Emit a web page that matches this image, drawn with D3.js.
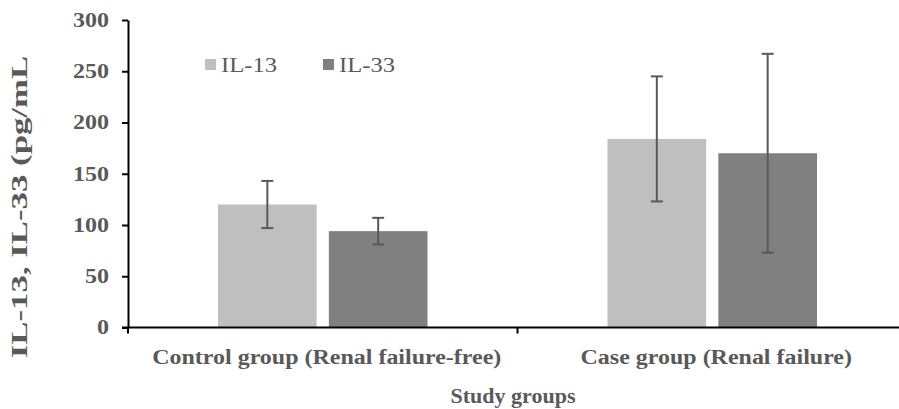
<!DOCTYPE html>
<html>
<head>
<meta charset="utf-8">
<script src="https://cdn.jsdelivr.net/npm/d3@7"></script>
<style>
    body { margin: 0; background: #fff; }
    text { font-family: "Liberation Serif", "Times New Roman", serif; }
</style>
</head>
<body>
<div id="chart"></div>
<script>
// Chart data
var groups = ["Control group (Renal failure-free)", "Case group (Renal failure)"];
var seriesNames = ["IL-13", "IL-33"];
var il13Means = [120, 184];
var il13Errors = [23, 61];
var il33Means = [94, 170];
var il33Errors = [13, 97];
var yTicks = [0, 50, 100, 150, 200, 250, 300];

var colors = { "IL-13": "#bfbfbf", "IL-33": "#808080" };

var svgWidth = 899;
var svgHeight = 409;

var margin = { top: 20, left: 128 };
var plotBottom = 327.5;

// text in the source figure is a little stretched sideways
var stretch = 1.2;

var svg = d3.select("#chart")
    .append("svg")
    .attr("width", svgWidth)
    .attr("height", svgHeight);

// Build rows from the arrays
var rows = groups.map(function (g, i) {
    return {
        group: g,
        values: [
            { key: "IL-13", mean: il13Means[i], err: il13Errors[i] },
            { key: "IL-33", mean: il33Means[i], err: il33Errors[i] }
        ]
    };
});

// Scales
var x0 = d3.scaleBand()
    .domain(groups)
    .range([margin.left, 907])
    .paddingInner(0)
    .paddingOuter(0);

var x1 = d3.scaleBand()
    .domain(seriesNames)
    .range([90, x0.bandwidth() - 90])
    .paddingInner(0.11);

var y = d3.scaleLinear()
    .domain([0, 300])
    .range([plotBottom, margin.top]);

// Bars
var groupG = svg.selectAll(".group")
    .data(rows)
    .enter()
    .append("g")
    .attr("transform", d => `translate(${x0(d.group)},0)`);

groupG.selectAll("rect")
    .data(d => d.values)
    .enter()
    .append("rect")
    .attr("x", d => x1(d.key))
    .attr("y", d => y(d.mean))
    .attr("width", x1.bandwidth())
    .attr("height", d => y(0) - y(d.mean))
    .attr("fill", d => colors[d.key]);

// Error bars
var errG = groupG.selectAll(".err")
    .data(d => d.values)
    .enter()
    .append("g")
    .attr("stroke", "#595959")
    .attr("stroke-width", 2);

errG.append("line")
    .attr("x1", d => x1(d.key) + x1.bandwidth() / 2)
    .attr("x2", d => x1(d.key) + x1.bandwidth() / 2)
    .attr("y1", d => y(d.mean + d.err))
    .attr("y2", d => y(d.mean - d.err));

errG.selectAll(".cap")
    .data(d => [d.mean + d.err, d.mean - d.err].map(v => ({ key: d.key, v: v })))
    .enter()
    .append("line")
    .attr("x1", d => x1(d.key) + x1.bandwidth() / 2 - 6)
    .attr("x2", d => x1(d.key) + x1.bandwidth() / 2 + 6)
    .attr("y1", d => y(d.v))
    .attr("y2", d => y(d.v));

// Y axis
var yAxis = svg.append("g")
    .attr("transform", `translate(${margin.left},0)`)
    .call(d3.axisLeft(y).tickValues(yTicks).tickSize(6).tickSizeOuter(0));

yAxis.select(".domain").attr("stroke", "#000").attr("stroke-width", 2);
yAxis.selectAll(".tick line").attr("stroke", "#000").attr("stroke-width", 2);
yAxis.selectAll(".tick text")
    .attr("x", 0)
    .attr("transform", `translate(-19,0) scale(${stretch},1)`)
    .attr("fill", "#595959")
    .attr("font-size", "20px")
    .attr("font-weight", "bold");

// X axis
var xAxis = svg.append("g")
    .attr("transform", `translate(0,${plotBottom})`);

xAxis.append("line")
    .attr("x1", margin.left - 6)
    .attr("x2", svgWidth)
    .attr("stroke", "#000")
    .attr("stroke-width", 2);

xAxis.selectAll(".xtick")
    .data(groups.concat(["end"]))
    .enter()
    .append("line")
    .attr("x1", (d, i) => i === 0 ? margin.left : x0(groups[i - 1]) + x0.bandwidth())
    .attr("x2", (d, i) => i === 0 ? margin.left : x0(groups[i - 1]) + x0.bandwidth())
    .attr("y1", 0)
    .attr("y2", 6)
    .attr("stroke", "#000")
    .attr("stroke-width", 2);

xAxis.selectAll(".xlabel")
    .data(groups)
    .enter()
    .append("text")
    .attr("transform", d => `translate(${x0(d) + x0.bandwidth() / 2 + 4},36) scale(1.09,1)`)
    .attr("text-anchor", "middle")
    .attr("fill", "#595959")
    .attr("font-size", "22px")
    .attr("font-weight", "bold")
    .text(d => d);

// Axis titles
svg.append("text")
    .attr("transform", "translate(513,403)")
    .attr("text-anchor", "middle")
    .attr("fill", "#595959")
    .attr("font-size", "22px")
    .attr("font-weight", "bold")
    .text("Study groups");

svg.append("text")
    .attr("transform", "translate(27,207) rotate(-90) scale(1.45,1)")
    .attr("text-anchor", "middle")
    .attr("fill", "#595959")
    .attr("font-size", "24px")
    .attr("font-weight", "bold")
    .text("IL-13, IL-33 (pg/mL");

// Legend
var legendX = [205, 323];
var legend = svg.selectAll(".legend")
    .data(seriesNames)
    .enter()
    .append("g")
    .attr("transform", (d, i) => `translate(${legendX[i]},59)`);

legend.append("rect")
    .attr("width", 11)
    .attr("height", 11)
    .attr("fill", d => colors[d]);

legend.append("text")
    .attr("transform", `translate(16,13) scale(${stretch},1)`)
    .attr("fill", "#595959")
    .attr("font-size", "20.5px")
    .text(d => d);
</script>
</body>
</html>
